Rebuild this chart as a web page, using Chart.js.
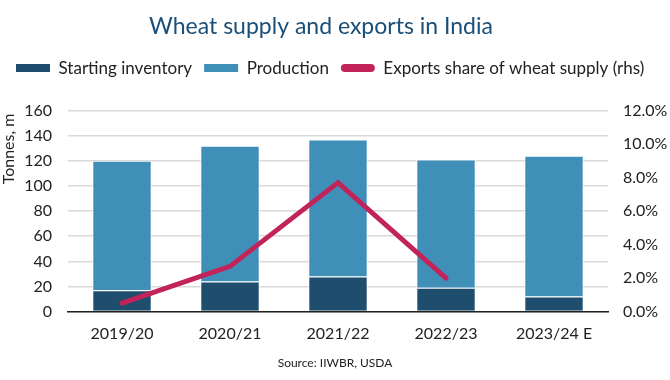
<!DOCTYPE html>
<html>
<head>
<meta charset="utf-8">
<script src="https://cdn.jsdelivr.net/npm/chart.js@4/dist/chart.umd.min.js"></script>
<style>
html,body{margin:0;padding:0;background:#fff;}
#wrap{width:670px;height:380px;position:relative;}
</style>
</head>
<body>
<div id="wrap"><canvas id="c" width="670" height="380"></canvas></div>
<script>
const categories = ["2019/20", "2020/21", "2021/22", "2022/23", "2023/24 E"];
const startingInventory = [17, 24, 28, 19, 12];
const production = [103, 108, 109, 102, 112];
const exportsShare = [0.5, 2.7, 7.7, 2.0, null];
const leftTicks = [0, 20, 40, 60, 80, 100, 120, 140, 160];
const rightTicks = [0, 2, 4, 6, 8, 10, 12];

const FONT = "Lato, 'Open Sans', sans-serif";

const yTitlePlugin = {
  id: 'yTitle',
  afterDraw(chart) {
    const ctx = chart.ctx;
    ctx.save();
    ctx.translate(9, 149);
    ctx.rotate(-Math.PI / 2);
    ctx.fillStyle = '#222';
    ctx.font = "16px " + FONT;
    ctx.textAlign = 'center';
    ctx.textBaseline = 'middle';
    ctx.fillText('Tonnes, m', 0, 0);
    ctx.restore();
  }
};

const layoutTweakPlugin = {
  id: 'layoutTweak',
  afterInit(chart) {
    const lg = chart.legend;
    if (lg && !lg._patched) {
      const orig = lg.fit;
      lg.fit = function () { orig.call(this); this.height += 24; };
      lg._patched = true;
    }
  },
  afterLayout(chart) {
    if (chart.legend) { chart.legend.left += 4; }
    if (chart.titleBlock) { chart.titleBlock.left -= 28; }
  }
};

new Chart(document.getElementById('c'), {
  data: {
    labels: categories,
    datasets: [
      {
        type: 'bar',
        label: 'Starting inventory',
        data: startingInventory,
        backgroundColor: '#1f4d6e',
        borderColor: '#ffffff',
        borderWidth: 1,
        stack: 's',
        order: 1
      },
      {
        type: 'bar',
        label: 'Production',
        data: production,
        backgroundColor: '#3f8fb8',
        borderColor: '#ffffff',
        borderWidth: 1,
        stack: 's',
        order: 1
      },
      {
        type: 'line',
        label: 'Exports share of wheat supply (rhs)',
        data: exportsShare,
        yAxisID: 'y1',
        borderColor: '#c2245a',
        backgroundColor: '#c2245a',
        borderWidth: 5,
        borderCapStyle: 'round',
        borderJoinStyle: 'miter',
        pointRadius: 0,
        tension: 0,
        order: 0
      }
    ]
  },
  options: {
    responsive: false,
    animation: false,
    devicePixelRatio: 1,
    layout: { padding: { left: 0, right: 0, top: 6, bottom: 2 } },
    datasets: { bar: { categoryPercentage: 1, barPercentage: 0.55 } },
    plugins: {
      tooltip: { enabled: false },
      title: {
        display: true,
        text: 'Wheat supply and exports in India',
        color: '#1b4f78',
        font: { family: FONT, size: 23, weight: 'normal' },
        padding: { top: 7, bottom: 7 }
      },
      subtitle: {
        display: true,
        position: 'bottom',
        text: 'Source: IIWBR, USDA',
        color: '#222',
        font: { family: FONT, size: 12 },
        padding: { top: 0, bottom: 8 }
      },
      legend: {
        display: true,
        position: 'top',
        align: 'start',
        labels: {
          color: '#222',
          font: { family: FONT, size: 17 },
          boxWidth: 34,
          boxHeight: 8,
          padding: 12,
          useBorderRadius: true,
          sort: (a, b) => a.datasetIndex - b.datasetIndex,
          generateLabels(chart) {
            const items = Chart.defaults.plugins.legend.labels.generateLabels(chart);
            items.forEach(it => {
              const ds = chart.data.datasets[it.datasetIndex];
              it.lineWidth = 0;
              it.strokeStyle = 'rgba(0,0,0,0)';
              it.fillStyle = ds.type === 'line' ? ds.borderColor : ds.backgroundColor;
              it.borderRadius = ds.type === 'line' ? 4 : 0;
            });
            return items;
          }
        }
      }
    },
    scales: {
      x: {
        stacked: true,
        grid: { display: false, drawTicks: false },
        border: { display: true, color: '#222', width: 1.5 },
        ticks: { color: '#222', font: { family: FONT, size: 16, lineHeight: 1.0 }, padding: 14 }
      },
      y: {
        stacked: true,
        position: 'left',
        min: 0, max: 160,
        afterBuildTicks(axis) { axis.ticks = leftTicks.map(v => ({ value: v })); },
        afterFit(axis) { axis.width = 68; },
        grid: { color: '#d9d9d9', lineWidth: 1.5, drawTicks: false },
        border: { display: false },
        ticks: { color: '#222', font: { family: FONT, size: 16 }, padding: 16 }
      },
      y1: {
        position: 'right',
        min: 0, max: 12,
        afterBuildTicks(axis) { axis.ticks = rightTicks.map(v => ({ value: v })); },
        afterFit(axis) { axis.width = 62; },
        grid: { display: false, drawTicks: false },
        border: { display: false },
        ticks: {
          color: '#222', font: { family: FONT, size: 16 }, padding: 15,
          callback: v => v.toFixed(1) + '%'
        }
      }
    }
  },
  plugins: [yTitlePlugin, layoutTweakPlugin]
});
</script>
</body>
</html>
